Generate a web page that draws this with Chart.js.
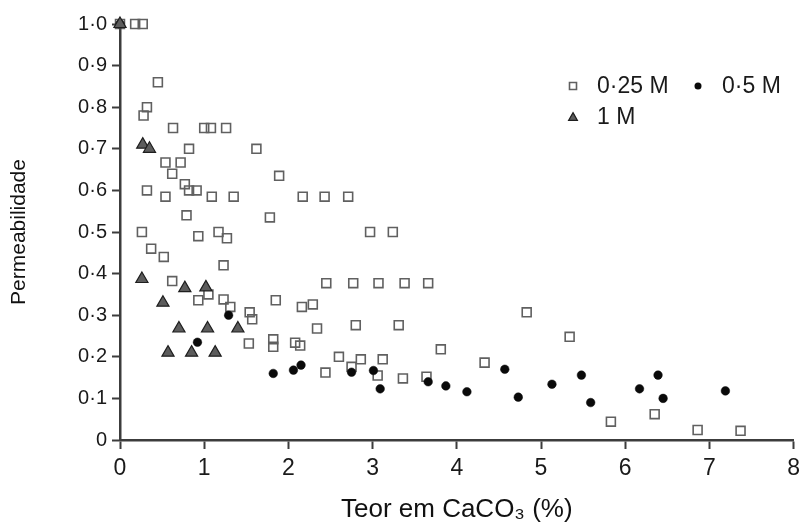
<!DOCTYPE html>
<html>
<head>
<meta charset="utf-8">
<script src="https://cdn.jsdelivr.net/npm/chart.js@4.4.1/dist/chart.umd.min.js"></script>
<style>
html,body{margin:0;padding:0;background:#ffffff;}
#wrap{width:806px;height:525px;position:relative;}
</style>
</head>
<body>
<div id="wrap"><canvas id="c" width="806" height="525"></canvas></div>
<script>
// ---- Data ----
const seriesLabels = ['0·25 M', '0·5 M', '1 M'];

// 0.25 M (open squares)
const m025X = [0, 0.18, 0.27, 0.45, 0.32, 0.28, 0.63, 1.00, 1.08, 1.26, 0.82, 1.62, 0.54, 0.72, 0.62, 1.89,
  0.77, 0.82, 0.91, 0.32, 0.54, 1.09, 1.35, 2.17, 2.43, 2.71, 0.79, 1.78, 0.26, 0.93, 1.17, 1.27,
  2.97, 3.24, 0.37, 0.52, 1.23, 2.45, 2.77, 3.07, 3.38, 3.66, 0.62, 0.93, 1.05, 1.23, 1.85,
  1.31, 1.54, 1.57, 2.16, 2.29, 2.34, 2.80, 3.31, 4.83, 1.53, 1.82, 1.82, 2.08, 2.14,
  2.60, 2.75, 2.86, 3.12, 2.44, 3.06, 3.36, 3.64, 3.81, 4.33, 5.34, 5.83, 6.35, 6.86, 7.37];
const m025Y = [1.0, 1.0, 1.0, 0.86, 0.80, 0.78, 0.75, 0.75, 0.75, 0.75, 0.70, 0.70, 0.667, 0.667, 0.64, 0.635,
  0.615, 0.60, 0.60, 0.60, 0.585, 0.585, 0.585, 0.585, 0.585, 0.585, 0.54, 0.535, 0.50, 0.49, 0.50, 0.485,
  0.50, 0.50, 0.46, 0.44, 0.42, 0.377, 0.377, 0.377, 0.377, 0.377, 0.382, 0.336, 0.35, 0.338, 0.336,
  0.32, 0.307, 0.29, 0.32, 0.326, 0.268, 0.276, 0.276, 0.307, 0.232, 0.242, 0.224, 0.234, 0.227,
  0.20, 0.176, 0.194, 0.194, 0.162, 0.155, 0.148, 0.152, 0.218, 0.186, 0.248, 0.044, 0.062, 0.024, 0.022];

// 0.5 M (filled circles)
const m05X = [0, 1.29, 0.92, 1.82, 2.06, 2.15, 2.75, 3.01, 3.09, 3.66, 3.87, 4.12, 4.57, 4.73, 5.13, 5.48, 5.59, 6.17, 6.39, 6.45, 7.19];
const m05Y = [1.0, 0.30, 0.235, 0.16, 0.168, 0.18, 0.163, 0.167, 0.123, 0.14, 0.13, 0.116, 0.17, 0.103, 0.134, 0.156, 0.09, 0.123, 0.156, 0.10, 0.118];

// 1 M (grey triangles)
const m1X = [0, 0.27, 0.35, 0.26, 0.77, 1.02, 0.51, 0.70, 1.04, 1.40, 0.57, 0.85, 1.13];
const m1Y = [1.0, 0.71, 0.70, 0.387, 0.365, 0.367, 0.33, 0.268, 0.268, 0.268, 0.21, 0.21, 0.21];

const xTickLabels = ['0', '1', '2', '3', '4', '5', '6', '7', '8'];
const yTickLabels = ['0', '0·1', '0·2', '0·3', '0·4', '0·5', '0·6', '0·7', '0·8', '0·9', '1·0'];
const xTitle = 'Teor em CaCO₃ (%)';
const yTitle = 'Permeabilidade';

// ---- Build ----
const pts = (xs, ys) => xs.map((x, i) => ({x: x, y: ys[i]}));
const FAM = '"Liberation Sans", Arial, Helvetica, sans-serif';
const AX = '#3c3c3c';

const datasets = [
  {label: seriesLabels[0], data: pts(m025X, m025Y), pointStyle: 'rect', pointRadius: 6.3,
   backgroundColor: 'rgba(255,255,255,0)', borderColor: '#606060', borderWidth: 1.6, order: 3, clip: false, legendSize: 7},
  {label: seriesLabels[1], data: pts(m05X, m05Y), pointStyle: 'circle', pointRadius: 4.3,
   backgroundColor: '#0a0a0a', borderColor: '#0a0a0a', borderWidth: 0.5, order: 2, clip: false, legendSize: 7},
  {label: seriesLabels[2], data: pts(m1X, m1Y), pointStyle: 'triangle', pointRadius: 7,
   backgroundColor: '#5c5c5c', borderColor: '#1e1e1e', borderWidth: 1.2, order: 1, clip: false, legendSize: 8}
];

const insideLegend = {
  id: 'insideLegend',
  afterDraw(chart) {
    const ctx = chart.ctx, a = chart.chartArea;
    const items = [
      {ds: 0, x: a.left + 453, y: a.top + 62},
      {ds: 1, x: a.left + 578, y: a.top + 62},
      {ds: 2, x: a.left + 453, y: a.top + 93}
    ];
    ctx.save();
    items.forEach(it => {
      const ds = chart.data.datasets[it.ds];
      const s = ds.legendSize;
      ctx.lineWidth = ds.borderWidth;
      ctx.strokeStyle = ds.borderColor;
      ctx.fillStyle = ds.backgroundColor;
      ctx.beginPath();
      if (ds.pointStyle === 'rect') {
        ctx.rect(it.x - s / 2, it.y - s / 2, s, s);
        ctx.stroke();
      } else if (ds.pointStyle === 'circle') {
        ctx.arc(it.x, it.y, s / 2, 0, Math.PI * 2);
        ctx.fill();
      } else {
        ctx.moveTo(it.x, it.y - s * 0.55);
        ctx.lineTo(it.x + s * 0.55, it.y + s * 0.42);
        ctx.lineTo(it.x - s * 0.55, it.y + s * 0.42);
        ctx.closePath();
        ctx.fill();
        ctx.stroke();
      }
      ctx.font = '23px ' + FAM;
      ctx.fillStyle = '#1a1a1a';
      ctx.textBaseline = 'middle';
      ctx.textAlign = 'left';
      ctx.fillText(ds.label, it.x + 24, it.y + 1);
    });
    ctx.restore();
  }
};

new Chart(document.getElementById('c'), {
  type: 'scatter',
  data: {datasets: datasets},
  options: {
    responsive: false,
    animation: false,
    devicePixelRatio: 1,
    layout: {padding: {left: 0, right: 9, top: 24, bottom: 0}},
    plugins: {legend: {display: false}, tooltip: {enabled: false}},
    scales: {
      x: {
        type: 'linear', min: 0, max: 8,
        ticks: {stepSize: 1, autoSkip: false, maxRotation: 0, padding: 6, color: '#1a1a1a',
          font: {size: 23, family: FAM}, callback: (v, i) => xTickLabels[i]},
        grid: {display: true, drawOnChartArea: false, drawTicks: true, tickLength: 9, tickWidth: 2, tickColor: AX},
        border: {display: true, color: AX, width: 2.5},
        title: {display: true, text: xTitle, color: '#111', font: {size: 26, family: FAM}, padding: {top: 0, bottom: 0}},
        afterFit: s => { s.height = 85; }
      },
      y: {
        type: 'linear', min: 0, max: 1,
        ticks: {stepSize: 0.1, autoSkip: false, padding: 5, color: '#1a1a1a',
          font: {size: 20, family: FAM}, callback: (v, i) => yTickLabels[i]},
        grid: {display: true, drawOnChartArea: false, drawTicks: true, tickLength: 8, tickWidth: 2, tickColor: AX},
        border: {display: true, color: AX, width: 2.5},
        title: {display: true, text: yTitle, color: '#111', font: {size: 21, family: FAM}, padding: {top: 7, bottom: 0}},
        afterFit: s => { s.width = 120; }
      }
    }
  },
  plugins: [insideLegend]
});
</script>
</body>
</html>
